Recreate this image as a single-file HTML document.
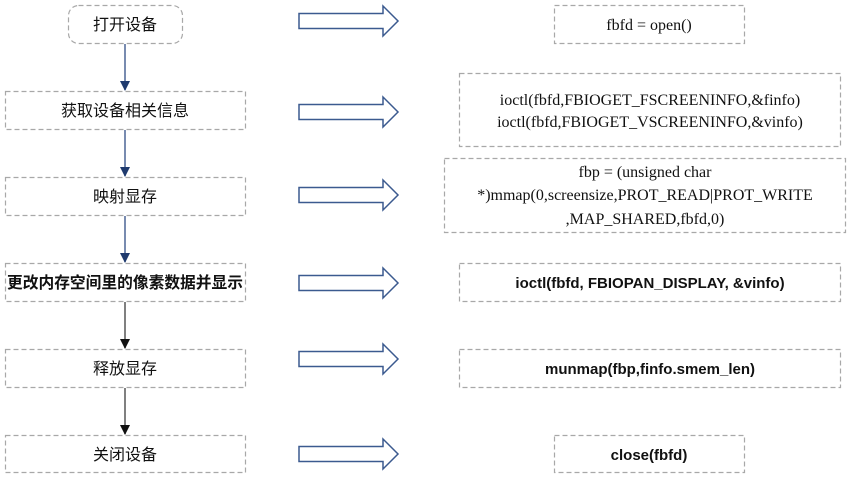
<!DOCTYPE html>
<html><head><meta charset="utf-8"><style>
html,body{margin:0;padding:0;background:#fff;}
svg{display:block}
.cn{font-family:"Liberation Sans","Noto Sans CJK SC",sans-serif;font-size:16px;fill:#111}
.se{font-family:"Liberation Serif",serif;font-size:16px;fill:#111}
.sb{font-family:"Liberation Sans",sans-serif;font-size:15px;font-weight:bold;fill:#111}
</style></head><body>
<svg width="859" height="477" viewBox="0 0 859 477" xmlns="http://www.w3.org/2000/svg">
<defs>
<marker id="mb" markerWidth="10" markerHeight="10" refX="9" refY="5" orient="auto" markerUnits="userSpaceOnUse" viewBox="0 0 10 10"><path d="M0,0 L10,5 L0,10 z" fill="#1f3a6e"/></marker>
<marker id="mk" markerWidth="10" markerHeight="10" refX="9" refY="5" orient="auto" markerUnits="userSpaceOnUse" viewBox="0 0 10 10"><path d="M0,0 L10,5 L0,10 z" fill="#111"/></marker>
<g id="arr"><path d="M0,-7.5 L84,-7.5 L84,-15 L99,0 L84,15 L84,7.5 L0,7.5 z" fill="#fff" stroke="#3b5a8f" stroke-width="1.5"/></g>
</defs>
<g fill="none" stroke="#a8a8a8" stroke-width="1.2" stroke-dasharray="5,3">
<rect x="68.5" y="5.5" width="114" height="38" rx="10"/>
<rect x="5.5" y="91.5" width="240" height="38"/>
<rect x="5.5" y="177.5" width="240" height="38"/>
<rect x="5.5" y="263.5" width="240" height="38"/>
<rect x="5.5" y="349.5" width="240" height="38"/>
<rect x="5.5" y="435.5" width="240" height="37"/>
<rect x="554.5" y="5.5" width="190" height="38"/>
<rect x="459.5" y="73.5" width="381" height="73"/>
<rect x="444.5" y="158.5" width="401" height="74"/>
<rect x="459.5" y="263.5" width="381" height="38"/>
<rect x="459.5" y="349.5" width="381" height="38"/>
<rect x="554.5" y="435.5" width="190" height="37"/>
</g>
<g stroke-width="1.5">
<line x1="125" y1="44" x2="125" y2="90" stroke="#4a6496" marker-end="url(#mb)"/>
<line x1="125" y1="130" x2="125" y2="176" stroke="#4a6496" marker-end="url(#mb)"/>
<line x1="125" y1="216" x2="125" y2="262" stroke="#4a6496" marker-end="url(#mb)"/>
<line x1="125" y1="302" x2="125" y2="348" stroke="#555" marker-end="url(#mk)"/>
<line x1="125" y1="388" x2="125" y2="434" stroke="#555" marker-end="url(#mk)"/>
</g>
<use href="#arr" x="299" y="21"/>
<use href="#arr" x="299" y="112"/>
<use href="#arr" x="299" y="195"/>
<use href="#arr" x="299" y="283"/>
<use href="#arr" x="299" y="359"/>
<use href="#arr" x="299" y="454"/>
<g text-anchor="middle">
<text class="cn" x="125" y="30">打开设备</text>
<text class="cn" x="125" y="116">获取设备相关信息</text>
<text class="cn" x="125" y="202">映射显存</text>
<text class="cn" x="125" y="288" style="font-weight:bold" textLength="236" lengthAdjust="spacingAndGlyphs">更改内存空间里的像素数据并显示</text>
<text class="cn" x="125" y="374">释放显存</text>
<text class="cn" x="125" y="460">关闭设备</text>
<text class="se" x="649" y="30">fbfd = open()</text>
<text class="se" x="650" y="105">ioctl(fbfd,FBIOGET_FSCREENINFO,&amp;finfo)</text>
<text class="se" x="650" y="127">ioctl(fbfd,FBIOGET_VSCREENINFO,&amp;vinfo)</text>
<text class="se" x="645" y="177">fbp = (unsigned char</text>
<text class="se" x="645" y="200">*)mmap(0,screensize,PROT_READ|PROT_WRITE</text>
<text class="se" x="645" y="224">,MAP_SHARED,fbfd,0)</text>
<text class="sb" x="650" y="288">ioctl(fbfd, FBIOPAN_DISPLAY, &amp;vinfo)</text>
<text class="sb" x="650" y="374">munmap(fbp,finfo.smem_len)</text>
<text class="sb" x="649" y="460">close(fbfd)</text>
</g>
</svg>
</body></html>
